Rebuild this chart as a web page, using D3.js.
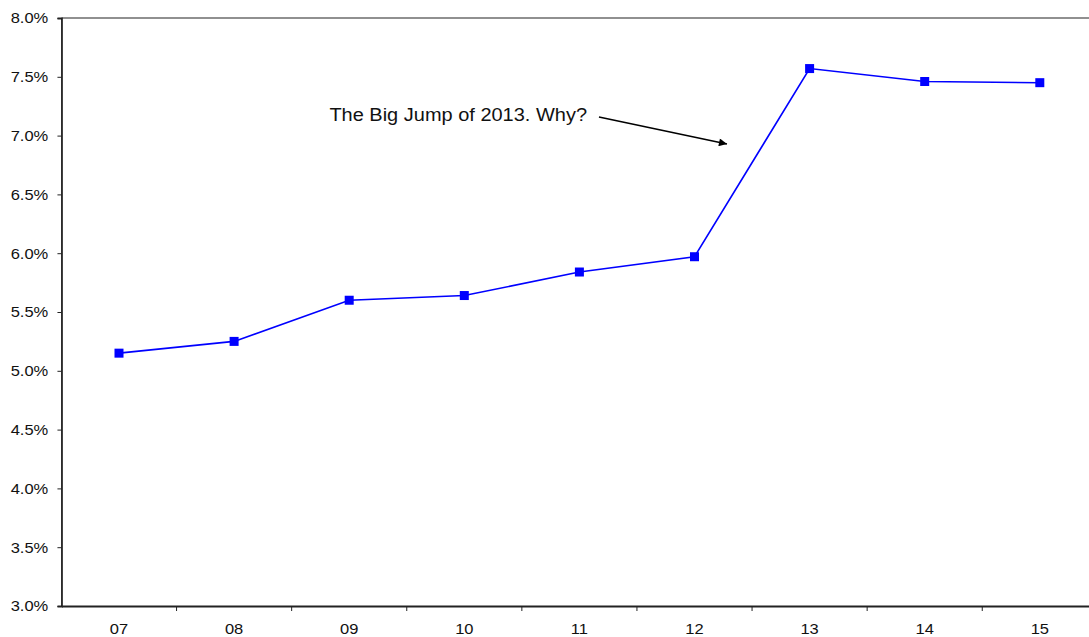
<!DOCTYPE html>
<html>
<head>
<meta charset="utf-8">
<script src="https://cdn.jsdelivr.net/npm/d3@7"></script>
<style>
  html, body { margin: 0; padding: 0; background: #fff; }
  svg { display: block; }
  text { font-family: "Liberation Sans", Arial, sans-serif; fill: #111; }
</style>
</head>
<body>
<svg id="chart" width="1089" height="637"></svg>
<script>
// Year labels along the bottom axis
const years = ["07", "08", "09", "10", "11", "12", "13", "14", "15"];
// Rate for each year, as a fraction
const rates = [0.0515, 0.0525, 0.0560, 0.0564, 0.0584, 0.0597, 0.0757, 0.0746, 0.0745];
// Vertical axis ticks
const yTicks = [0.030, 0.035, 0.040, 0.045, 0.050, 0.055, 0.060, 0.065, 0.070, 0.075, 0.080];

// Callout text and arrow, placed in (year index, rate) units
const noteText = "The Big Jump of 2013. Why?";
const noteAt = [4.066, 0.0712];
const arrowFrom = [4.17, 0.07158];
const arrowTo = [5.282, 0.06929];

const svg = d3.select("#chart");
const plotLeft = 61.45, plotTop = 18, plotBottom = 606;
const step = 115.1;
const plotRight = plotLeft + step * years.length;

const x = d3.scaleBand().domain(years).range([plotLeft, plotRight]).padding(0);
const y = d3.scaleLinear().domain([0.03, 0.08]).range([plotBottom, plotTop]);
// continuous position across the year bands, for the callout
const xi = i => plotLeft + step * (i + 0.5);

const stretch = "scale(1.1,1)";

// top frame line
svg.append("line")
  .attr("x1", plotLeft).attr("x2", plotRight)
  .attr("y1", y(0.08)).attr("y2", y(0.08))
  .attr("stroke", "#222").attr("stroke-width", 1.2);

// y axis
const yAxis = svg.append("g")
  .attr("transform", `translate(${plotLeft},0)`)
  .call(d3.axisLeft(y).tickValues(yTicks).tickFormat(d3.format(".1%")).tickSize(4).tickPadding(8));
yAxis.select(".domain").attr("stroke", "#222").attr("stroke-width", 1.8);
yAxis.selectAll(".tick line").attr("stroke", "#222");
yAxis.selectAll(".tick text")
  .attr("font-size", 15).attr("fill", "#111")
  .attr("font-family", "Liberation Sans, Arial, sans-serif")
  .attr("transform", stretch);

// x axis with ticks on the band boundaries
const xAxis = svg.append("g")
  .attr("transform", `translate(0,${plotBottom})`)
  .call(d3.axisBottom(x).tickSize(0).tickPadding(17));
xAxis.select(".domain").attr("stroke", "#222").attr("stroke-width", 1.8);
xAxis.selectAll(".tick text")
  .attr("font-size", 15).attr("fill", "#111")
  .attr("font-family", "Liberation Sans, Arial, sans-serif")
  .attr("transform", stretch);
xAxis.selectAll(".bound")
  .data(years.slice(1))
  .enter().append("line")
  .attr("class", "bound")
  .attr("x1", d => x(d)).attr("x2", d => x(d))
  .attr("y1", 0).attr("y2", 5)
  .attr("stroke", "#222").attr("stroke-width", 1);

// series line
const line = d3.line()
  .x((d, i) => x(years[i]) + x.bandwidth() / 2)
  .y(d => y(d));
svg.append("path")
  .datum(rates)
  .attr("d", line)
  .attr("fill", "none")
  .attr("stroke", "#0000ff")
  .attr("stroke-width", 1.6);

// square markers
const m = 9;
svg.selectAll(".pt")
  .data(rates)
  .enter().append("rect")
  .attr("class", "pt")
  .attr("x", (d, i) => x(years[i]) + x.bandwidth() / 2 - m / 2)
  .attr("y", d => y(d) - m / 2)
  .attr("width", m).attr("height", m)
  .attr("fill", "#0000ff");

// callout
svg.append("defs").append("marker")
  .attr("id", "head")
  .attr("viewBox", "0 0 10 10")
  .attr("refX", 10).attr("refY", 5)
  .attr("markerWidth", 11).attr("markerHeight", 8)
  .attr("markerUnits", "userSpaceOnUse")
  .attr("orient", "auto")
  .append("path").attr("d", "M0,0 L10,5 L0,10 Z").attr("fill", "#000");

svg.append("line")
  .attr("x1", xi(arrowFrom[0])).attr("y1", y(arrowFrom[1]))
  .attr("x2", xi(arrowTo[0])).attr("y2", y(arrowTo[1]))
  .attr("stroke", "#000").attr("stroke-width", 1.5)
  .attr("marker-end", "url(#head)");

svg.append("g")
  .attr("transform", `translate(${xi(noteAt[0])},${y(noteAt[1])}) scale(1.08,1)`)
  .append("text")
  .attr("text-anchor", "end")
  .attr("font-size", 18.5)
  .text(noteText);
</script>
</body>
</html>
